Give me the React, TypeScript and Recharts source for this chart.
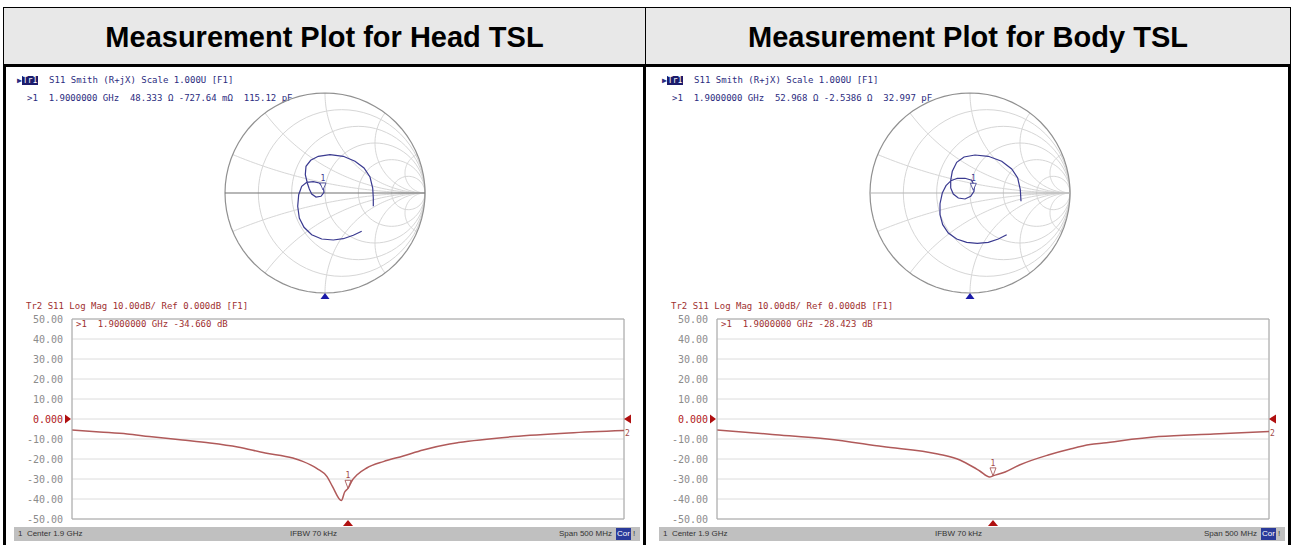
import React from 'react';
import {
  ScatterChart, Scatter, XAxis, YAxis,
  LineChart, Line, CartesianGrid, ReferenceDot, ReferenceLine,
} from 'recharts';

// sweep: center 1.9 GHz, span 500 MHz (MHz)
const freqTicks = [1650, 1700, 1750, 1800, 1850, 1900, 1950, 2000, 2050, 2100, 2150];
const dbTicks = [-50, -40, -30, -20, -10, 0, 10, 20, 30, 40, 50];

// Tr2 log mag, head TSL
const headFreq = [1650, 1675, 1700, 1720, 1750, 1775, 1800, 1825, 1850, 1859, 1872, 1881, 1886, 1894, 1897, 1900, 1904, 1908, 1917, 1932, 1950, 1968, 1992, 2000, 2050, 2100, 2150];
const headDb = [-5.5, -6.5, -7.5, -8.8, -10.5, -12, -14, -17, -19.5, -21.2, -24.8, -28.8, -33.8, -40.8, -36.5, -34.66, -30.5, -28, -24.5, -21.3, -18.5, -15.5, -12.5, -11.8, -8.8, -7, -5.8];

// Tr2 log mag, body TSL
const bodyFreq = [1650, 1700, 1750, 1800, 1850, 1870, 1882, 1888, 1897, 1900, 1911, 1924, 1950, 1970, 1988, 2000, 2050, 2100, 2150];
const bodyDb = [-5.5, -7.7, -10, -13.8, -17.5, -20.5, -24, -26, -29, -28.42, -26.5, -23, -18, -15, -12.8, -12, -8.8, -7.5, -6.2];

// Tr1 smith trace (reflection coefficient re / im)
const headSmithRe = [0.367, 0.283, 0.183, 0.083, -0.033, -0.133, -0.21, -0.257, -0.273, -0.263, -0.233, -0.183, -0.117, -0.057, -0.017, -0.01, -0.04, -0.09, -0.133, -0.157, -0.177, -0.197, -0.19, -0.143, -0.067, 0.05, 0.183, 0.3, 0.39, 0.45, 0.477, 0.483, 0.483];
const headSmithIm = [-0.383, -0.423, -0.457, -0.47, -0.46, -0.417, -0.343, -0.25, -0.133, -0.017, 0.067, 0.107, 0.113, 0.1, 0.06, 0.007, -0.033, -0.04, -0.01, 0.04, 0.1, 0.183, 0.267, 0.327, 0.367, 0.383, 0.367, 0.317, 0.25, 0.16, 0.05, -0.05, -0.133];
const bodySmithRe = [0.367, 0.283, 0.183, 0.073, -0.033, -0.133, -0.217, -0.273, -0.3, -0.3, -0.277, -0.24, -0.19, -0.127, -0.05, 0.017, 0.043, 0.04, 0.007, -0.05, -0.117, -0.167, -0.193, -0.193, -0.177, -0.133, -0.06, 0.05, 0.183, 0.317, 0.417, 0.477, 0.503, 0.51];
const bodySmithIm = [-0.417, -0.46, -0.493, -0.503, -0.493, -0.46, -0.4, -0.317, -0.217, -0.107, 0, 0.073, 0.123, 0.147, 0.147, 0.127, 0.073, 0.017, -0.033, -0.06, -0.05, -0.01, 0.05, 0.127, 0.217, 0.307, 0.36, 0.38, 0.367, 0.317, 0.24, 0.15, 0.033, -0.083];

// smith grid values
const smithR = [0.2, 0.5, 1, 2, 5];
const smithX = [0.2, 0.5, 1, 2, 5];

const MONO = "'DejaVu Sans Mono', monospace";
const SANS = "'Liberation Sans', Arial, sans-serif";

type Pt = { x: number; y: number };

const SEG = 72;
function arc(cx: number, cy: number, rad: number, a0: number, a1: number): Pt[] {
  const pts: Pt[] = [];
  for (let i = 0; i <= SEG; i++) {
    const a = a0 + ((a1 - a0) * i) / SEG;
    pts.push({ x: cx + rad * Math.cos(a), y: cy + rad * Math.sin(a) });
  }
  return pts;
}

const unitCircle = arc(0, 0, 1, 0, 2 * Math.PI);
const rCircles = smithR.map((r) => arc(r / (r + 1), 0, 1 / (r + 1), 0, 2 * Math.PI));
const xArcs = smithX.flatMap((v) => [v, -v]).map((v) => {
  const cy = 1 / v;
  const px = (v * v - 1) / (v * v + 1);
  const py = (2 * v) / (v * v + 1);
  const a0 = Math.atan2(-cy, 0);
  let a1 = Math.atan2(py - cy, px - 1);
  if (a1 - a0 > Math.PI) a1 -= 2 * Math.PI;
  if (a0 - a1 > Math.PI) a1 += 2 * Math.PI;
  return arc(1, cy, Math.abs(cy), a0, a1);
});
const realAxis = [{ x: -1, y: 0 }, { x: 1, y: 0 }];

const NoDot = () => <g />;

const fmtDb = (v: number) => (v === 0 ? '0.000' : v.toFixed(2));

const DbTick = (p: any) => {
  const v = p.payload.value;
  return (
    <text x={p.x} y={p.y} dy={3.5} textAnchor="end" fontSize={10} fontFamily={MONO}
      fill={v === 0 ? '#b02020' : '#8c8c8c'}>{fmtDb(v)}</text>
  );
};

type PanelProps = {
  left: number;
  smith: Pt[];
  smithMarker: Pt;
  smithReadout: string;
  log: { f: number; db: number }[];
  markerDb: number;
  logReadout: string;
  axisColor: string;
};

const Panel = ({ left, smith, smithMarker, smithReadout, log, markerDb, logReadout, axisColor }: PanelProps) => {
  const lastDb = log[log.length - 1].db;
  return (
    <>
      {/* Tr1 header */}
      <div style={{ position: 'absolute', left: left + 17, top: 74, fontFamily: MONO, fontSize: 9, lineHeight: '12px', color: '#2c2c80', whiteSpace: 'pre' }}>
        <span style={{ fontSize: 8 }}>▶</span>
        <span style={{ background: '#1c1c6c', color: '#fff', padding: '0 1px', fontSize: 8 }}>Tr1</span>
        {'  S11 Smith (R+jX) Scale 1.000U [F1]'}
      </div>
      <div style={{ position: 'absolute', left: left + 27, top: 92, fontFamily: MONO, fontSize: 9, lineHeight: '12px', color: '#2c2c80', whiteSpace: 'pre' }}>
        {smithReadout}
      </div>

      <div style={{ position: 'absolute', left: left + 215, top: 83 }}>
        <ScatterChart width={220} height={220} margin={{ top: 10, right: 10, bottom: 10, left: 10 }}>
          <XAxis type="number" dataKey="x" domain={[-1, 1]} hide />
          <YAxis type="number" dataKey="y" domain={[-1, 1]} hide />
          {rCircles.map((pts, i) => (
            <Scatter key={'r' + i} data={pts} line={{ stroke: '#d6d6d6', strokeWidth: 1 }} shape={NoDot} isAnimationActive={false} />
          ))}
          {xArcs.map((pts, i) => (
            <Scatter key={'x' + i} data={pts} line={{ stroke: '#d6d6d6', strokeWidth: 1 }} shape={NoDot} isAnimationActive={false} />
          ))}
          <Scatter data={unitCircle} line={{ stroke: '#909090', strokeWidth: 1.2 }} shape={NoDot} isAnimationActive={false} />
          <Scatter data={realAxis} line={{ stroke: axisColor, strokeWidth: 1.2 }} shape={NoDot} isAnimationActive={false} />
          <Scatter data={smith} line={{ stroke: '#3a3a90', strokeWidth: 1.2 }} shape={NoDot} isAnimationActive={false} />
          <ReferenceDot x={smithMarker.x} y={smithMarker.y} ifOverflow="visible"
            shape={(p: any) => (
              <g>
                <path d={`M${p.cx},${p.cy} l-3,-7 h6 z`} fill="#fff" stroke="#3a3a90" strokeWidth={0.8} />
                <text x={p.cx} y={p.cy - 9} textAnchor="middle" fontSize={8} fontFamily={MONO} fill="#3a3a90">1</text>
              </g>
            )} />
          <ReferenceDot x={0} y={-1} ifOverflow="visible"
            shape={(p: any) => <path d={`M${p.cx},${p.cy} l-4.5,6 h9 z`} fill="#1a1aa8" />} />
        </ScatterChart>
      </div>

      {/* Tr2 header */}
      <div style={{ position: 'absolute', left: left + 26, top: 300, fontFamily: MONO, fontSize: 9, lineHeight: '12px', color: '#a03030', whiteSpace: 'pre' }}>
        Tr2 S11 Log Mag 10.00dB/ Ref 0.000dB [F1]
      </div>

      <div style={{ position: 'absolute', left, top: 309 }}>
        <LineChart width={640} height={230} data={log} margin={{ top: 10, right: 16, bottom: 19, left: 10 }}>
          <CartesianGrid stroke="#dcdcdc" />
          <XAxis type="number" dataKey="f" domain={[1650, 2150]} ticks={freqTicks} tick={false} tickLine={false} height={1} axisLine={{ stroke: '#a8a8a8' }} />
          <YAxis type="number" domain={[-50, 50]} ticks={dbTicks} interval={0} width={62} tickLine={false} tickSize={0} tickMargin={9} axisLine={{ stroke: '#a8a8a8' }} tick={DbTick} />
          <ReferenceLine y={50} stroke="#a8a8a8" />
          <ReferenceLine x={2150} stroke="#a8a8a8" />
          <Line type="monotone" dataKey="db" stroke="#b05a5a" strokeWidth={1.5} dot={false} isAnimationActive={false} />
          <ReferenceDot x={1900} y={markerDb} ifOverflow="visible"
            shape={(p: any) => (
              <g>
                <path d={`M${p.cx},${p.cy} l-3,-8 h6 z`} fill="#fff" stroke="#a04848" strokeWidth={0.8} />
                <text x={p.cx} y={p.cy - 10} textAnchor="middle" fontSize={8} fontFamily={MONO} fill="#a04848">1</text>
              </g>
            )} />
          <ReferenceDot x={1650} y={0} ifOverflow="visible"
            shape={(p: any) => <path d={`M${p.cx - 1},${p.cy} l-6,-4.5 v9 z`} fill="#b01010" />} />
          <ReferenceDot x={2150} y={0} ifOverflow="visible"
            shape={(p: any) => <path d={`M${p.cx},${p.cy} l7,-4.5 v9 z`} fill="#b01010" />} />
          <ReferenceDot x={2150} y={lastDb} ifOverflow="visible"
            shape={(p: any) => <text x={p.cx + 1} y={p.cy + 5} fontSize={8} fontFamily={MONO} fill="#a04848">2</text>} />
          <ReferenceDot x={1900} y={-50} ifOverflow="visible"
            shape={(p: any) => <path d={`M${p.cx},${p.cy + 1} l-5,6 h10 z`} fill="#b01010" />} />
        </LineChart>
      </div>

      <div style={{ position: 'absolute', left: left + 76, top: 318, fontFamily: MONO, fontSize: 9, lineHeight: '12px', color: '#a03030', whiteSpace: 'pre' }}>
        {logReadout}
      </div>

      {/* status bar */}
      <div style={{ position: 'absolute', left: left + 14, top: 527, width: 626, height: 14, background: '#c0c0c0', fontFamily: SANS, fontSize: 8, lineHeight: '14px', color: '#333' }}>
        <span style={{ position: 'absolute', left: 4, whiteSpace: 'pre' }}>1  Center 1.9 GHz</span>
        <span style={{ position: 'absolute', left: 276 }}>IFBW 70 kHz</span>
        <span style={{ position: 'absolute', left: 545, whiteSpace: 'pre' }}>Span 500 MHz</span>
        <span style={{ position: 'absolute', left: 602, top: 1, height: 12, lineHeight: '12px', padding: '0 1px', background: '#2a3a9a', color: '#fff' }}>Cor</span>
        <span style={{ position: 'absolute', left: 619 }}>!</span>
      </div>
    </>
  );
};

const headLog = headFreq.map((f, i) => ({ f, db: headDb[i] }));
const bodyLog = bodyFreq.map((f, i) => ({ f, db: bodyDb[i] }));
const headSmith = headSmithRe.map((x, i) => ({ x, y: headSmithIm[i] }));
const bodySmith = bodySmithRe.map((x, i) => ({ x, y: bodySmithIm[i] }));

const App = () => {
  const line = (l: number, t: number, w: number, h: number) => (
    <div style={{ position: 'absolute', left: l, top: t, width: w, height: h, background: '#000' }} />
  );
  return (
    <div style={{ position: 'absolute', left: 0, top: 0, width: 1293, height: 545, background: '#fff', overflow: 'hidden' }}>
      <div style={{ position: 'absolute', left: 3, top: 7, width: 1288, height: 58, background: '#e8e8e8' }} />
      {line(3, 7, 1288, 1)}
      {line(3, 64, 1288, 3)}
      {line(3, 7, 1, 58)}
      {line(645, 7, 1, 58)}
      {line(1290, 7, 1, 58)}
      {line(3, 64, 3, 481)}
      {line(643, 64, 3, 481)}
      {line(1288, 64, 3, 481)}
      <div style={{ position: 'absolute', left: 4, top: 8, width: 641, height: 56, lineHeight: '58px', textAlign: 'center', fontFamily: SANS, fontWeight: 'bold', fontSize: 29, color: '#000' }}>
        Measurement Plot for Head TSL
      </div>
      <div style={{ position: 'absolute', left: 646, top: 8, width: 644, height: 56, lineHeight: '58px', textAlign: 'center', fontFamily: SANS, fontWeight: 'bold', fontSize: 29, color: '#000' }}>
        Measurement Plot for Body TSL
      </div>

      <Panel left={0} smith={headSmith} smithMarker={{ x: -0.02, y: 0.03 }}
        smithReadout={'>1  1.9000000 GHz  48.333 Ω -727.64 mΩ  115.12 pF'}
        log={headLog} markerDb={-34.66} logReadout={'>1  1.9000000 GHz -34.660 dB'} axisColor="#707070" />
      <Panel left={645} smith={bodySmith} smithMarker={{ x: 0.033, y: 0.027 }}
        smithReadout={'>1  1.9000000 GHz  52.968 Ω -2.5386 Ω  32.997 pF'}
        log={bodyLog} markerDb={-28.423} logReadout={'>1  1.9000000 GHz -28.423 dB'} axisColor="#b4b4b4" />
    </div>
  );
};

export default App;
